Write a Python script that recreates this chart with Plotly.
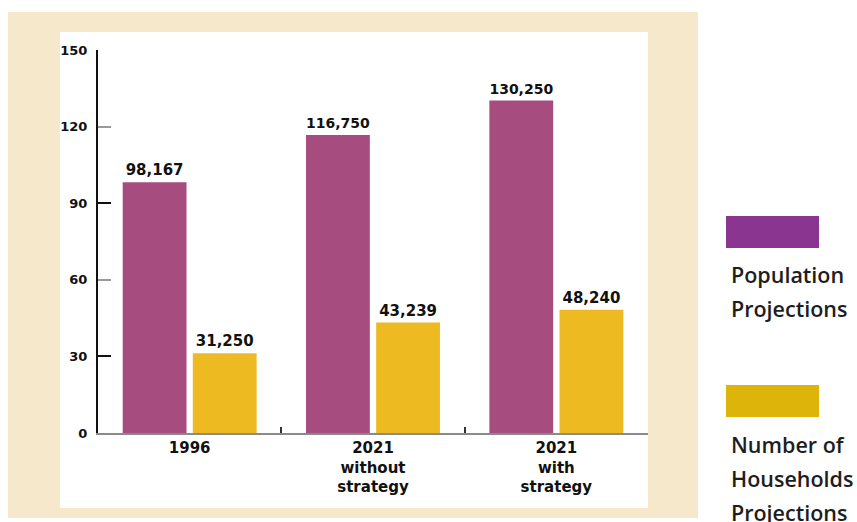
import plotly.graph_objects as go

categories = ["1996", "2021<br>without<br>strategy", "2021<br>with<br>strategy"]
population = [98167, 116750, 130250]
households = [31250, 43239, 48240]
y_ticks = [0, 30, 60, 90, 120, 150]
y_major_ticks = [0, 30, 90, 150]
legend_lines_pop = ["Population", "Projections"]
legend_lines_hh = ["Number of", "Households", "Projections"]

POP_BAR = "#A64C7E"
HH_BAR = "#EEBA22"
POP_LEG = "#8A3590"
HH_LEG = "#DDB409"
BEIGE = "#F6E8CB"
TEXT = "#111111"
CHART_FONT = "DejaVu Sans"
LEG_FONT = "Open Sans"

fig = go.Figure()
fig.add_trace(go.Bar(
    x=categories, y=[v / 1000 for v in population],
    text=[f"{v:,}" for v in population], textposition="outside",
    textfont=dict(family=CHART_FONT, size=15, color=TEXT, weight=700),
    marker=dict(color=POP_BAR, line=dict(width=0)), cliponaxis=False,
    showlegend=False,
))
fig.add_trace(go.Bar(
    x=categories, y=[v / 1000 for v in households],
    text=[f"{v:,}" for v in households], textposition="outside",
    textfont=dict(family=CHART_FONT, size=15, color=TEXT, weight=700),
    marker=dict(color=HH_BAR, line=dict(width=0)), cliponaxis=False,
    showlegend=False,
))
# invisible trace on overlay axis for the dark major ticks
fig.add_trace(go.Scatter(x=[categories[0]], y=[0], yaxis="y2", mode="markers",
                         marker=dict(opacity=0), showlegend=False, hoverinfo="skip"))

W, H = 857, 522
L, R, T, B = 98, 209, 50, 89
pw, ph = W - L - R, H - T - B

def px(x):
    return (x - L) / pw

def py(y):
    return (H - B - y) / ph

shapes = [
    dict(type="rect", xref="paper", yref="paper", x0=px(8), x1=px(698), y0=py(518), y1=py(12),
         fillcolor=BEIGE, line=dict(width=0), layer="below"),
    dict(type="rect", xref="paper", yref="paper", x0=px(60), x1=px(648), y0=py(508), y1=py(32),
         fillcolor="white", line=dict(width=0), layer="below"),
    dict(type="rect", xref="paper", yref="paper", x0=px(726), x1=px(819), y0=py(248), y1=py(216),
         fillcolor=POP_LEG, line=dict(width=0)),
    dict(type="rect", xref="paper", yref="paper", x0=px(726), x1=px(819), y0=py(417), y1=py(385),
         fillcolor=HH_LEG, line=dict(width=0)),
]

annotations = []
for i, t in enumerate(legend_lines_pop):
    annotations.append(dict(xref="paper", yref="paper", x=px(729), y=py(274 + 34 * i), text=t,
                            showarrow=False, xanchor="left", yanchor="middle",
                            font=dict(family=LEG_FONT, size=21.5, color="#1e1e1e", weight=600)))
for i, t in enumerate(legend_lines_hh):
    annotations.append(dict(xref="paper", yref="paper", x=px(729), y=py(444 + 34 * i), text=t,
                            showarrow=False, xanchor="left", yanchor="middle",
                            font=dict(family=LEG_FONT, size=21.5, color="#1e1e1e", weight=600)))

fig.update_layout(
    width=W, height=H,
    margin=dict(l=L, r=R, t=T, b=B, autoexpand=False),
    paper_bgcolor="white", plot_bgcolor="rgba(0,0,0,0)",
    barmode="group", bargap=0.235, bargroupgap=0.09,
    shapes=shapes, annotations=annotations,
    font=dict(family=CHART_FONT, color=TEXT),
    hovermode=False,
    xaxis=dict(
        type="category", showgrid=False, zeroline=False,
        showline=True, linecolor="#8a8a8a", linewidth=2,
        ticks="inside", ticklen=6, tickcolor="#333333", tickwidth=1.5,
        tickson="boundaries",
        tickfont=dict(family=CHART_FONT, size=15, color=TEXT, weight=700),
        fixedrange=True,
    ),
    yaxis=dict(
        range=[0, 150], tickvals=y_ticks, showgrid=False, zeroline=False,
        showline=True, linecolor="#111111", linewidth=2,
        ticks="inside", ticklen=13, tickcolor="#9a9a9a", tickwidth=1.5,
        ticklabelstandoff=6,
        tickfont=dict(family=CHART_FONT, size=13, color=TEXT, weight=700),
        fixedrange=True,
    ),
    yaxis2=dict(
        range=[0, 150], overlaying="y", side="left", tickvals=y_major_ticks,
        showticklabels=False, showgrid=False, zeroline=False, showline=False,
        ticks="inside", ticklen=13, tickcolor="#111111", tickwidth=2,
        fixedrange=True,
    ),
)

fig.write_html("out.html", config={"displayModeBar": False},
               post_script="document.body.style.margin='0px';")
